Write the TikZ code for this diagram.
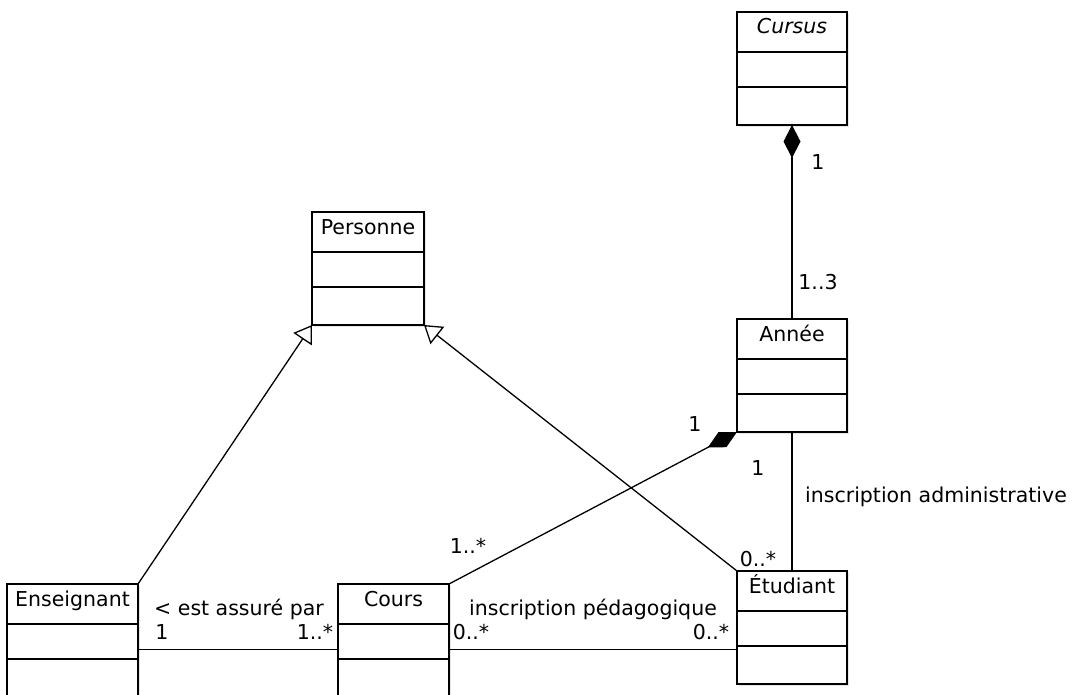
\documentclass[tikz,border=0pt]{standalone}
\usepackage{fontspec}
\setmainfont{DejaVu Sans}
\usetikzlibrary{positioning, arrows.meta, shadows}
\tikzset{
    x=1pt, y=-1pt, % pixel units, y going down
    every node/.style={font=\fontsize{20.5}{24}\selectfont}, % text size
    classe/.style={draw, fill=white, line width=1.5pt, outer sep=0pt,
        inner xsep=0pt, inner ysep=0pt, text height=22pt, text depth=18pt,
        minimum width=#1,
        drop shadow={shadow xshift=2pt, shadow yshift=-2pt, opacity=0.2}}, % class name
    compart/.style={draw, fill=white, line width=1.5pt, outer sep=0pt,
        inner sep=0pt, minimum width=#1, minimum height=35pt,
        drop shadow={shadow xshift=2pt, shadow yshift=-2pt, opacity=0.2}}, % empty compartment
    mult/.style={inner sep=0pt}, % multiplicities and labels
    assoc/.style={line width=1.3pt},
    gen/.style={assoc, -{Triangle[open, length=17pt, width=22pt]}}, % generalization
    compo/.style={assoc, {Diamond[length=33pt, width=17pt]}-}, % composition
}
\begin{document}
\begin{tikzpicture}
    \useasboundingbox (0,0) rectangle (1073,695);

    % classes
    \node[classe=110] (cursus) at (792,12) [anchor=north] {\textit{Cursus}};
    \node[compart=110, below=0pt of cursus] (cursus2) {};
    \node[compart=110, minimum height=38pt, below=0pt of cursus2] (cursus3) {};

    \node[classe=112] (pers) at (368,212) [anchor=north] {Personne};
    \node[compart=112, below=0pt of pers] (pers2) {};
    \node[compart=112, minimum height=38pt, below=0pt of pers2] (pers3) {};

    \node[classe=110] (annee) at (792,319) [anchor=north] {Année};
    \node[compart=110, below=0pt of annee] (annee2) {};
    \node[compart=110, minimum height=38pt, below=0pt of annee2] (annee3) {};

    \node[classe=110] (etud) at (792,571) [anchor=north] {Étudiant};
    \node[compart=110, below=0pt of etud] (etud2) {};
    \node[compart=110, minimum height=38pt, below=0pt of etud2] (etud3) {};

    \node[classe=131] (ens) at (72.5,584) [anchor=north] {Enseignant};
    \node[compart=131, below=0pt of ens] (ens2) {};
    \node[compart=131, minimum height=38pt, below=0pt of ens2] (ens3) {};

    \node[classe=111] (cours) at (393.5,584) [anchor=north] {Cours};
    \node[compart=111, below=0pt of cours] (cours2) {};
    \node[compart=111, minimum height=38pt, below=0pt of cours2] (cours3) {};

    % links
    \draw[gen] (ens.north east) -- (pers3.south west);
    \draw[gen] (etud.north west) -- (pers3.south east);
    \draw[compo] (cursus3.south) -- (annee.north);
    \draw[compo] (annee3.south west) -- (cours.north east);
    \draw[assoc] (annee3.south) -- (etud.north);
    \draw[assoc] ([yshift=-8pt]ens2.east) -- ([yshift=-8pt]ens2.east -| cours2.west);
    \draw[assoc] ([yshift=-8pt]cours2.east) -- ([yshift=-8pt]cours2.east -| etud3.west);

    % labels
    \node[mult] (m1) at (818,162) {1};
    \node[mult] (m2) at (818,282) {1..3};
    \node[mult] (m3) at (695,424) {1};
    \node[mult] (m4) at (468,546) {1..*};
    \node[mult] (m5) at (758,468) {1};
    \node[mult] (m6) at (758,559) {0..*};
    \node[mult] (insadm) at (936,497) {inscription administrative};
    \node[mult] (assure) at (239,609) {< est assuré par};
    \node[mult] (m7) at (162,632) {1};
    \node[mult] (m8) at (315,632) {1..*};
    \node[mult] (inspeda) at (593,609) {inscription pédagogique};
    \node[mult] (m9) at (471,632) {0..*};
    \node[mult] (m10) at (711,632) {0..*};
\end{tikzpicture}
\end{document}
